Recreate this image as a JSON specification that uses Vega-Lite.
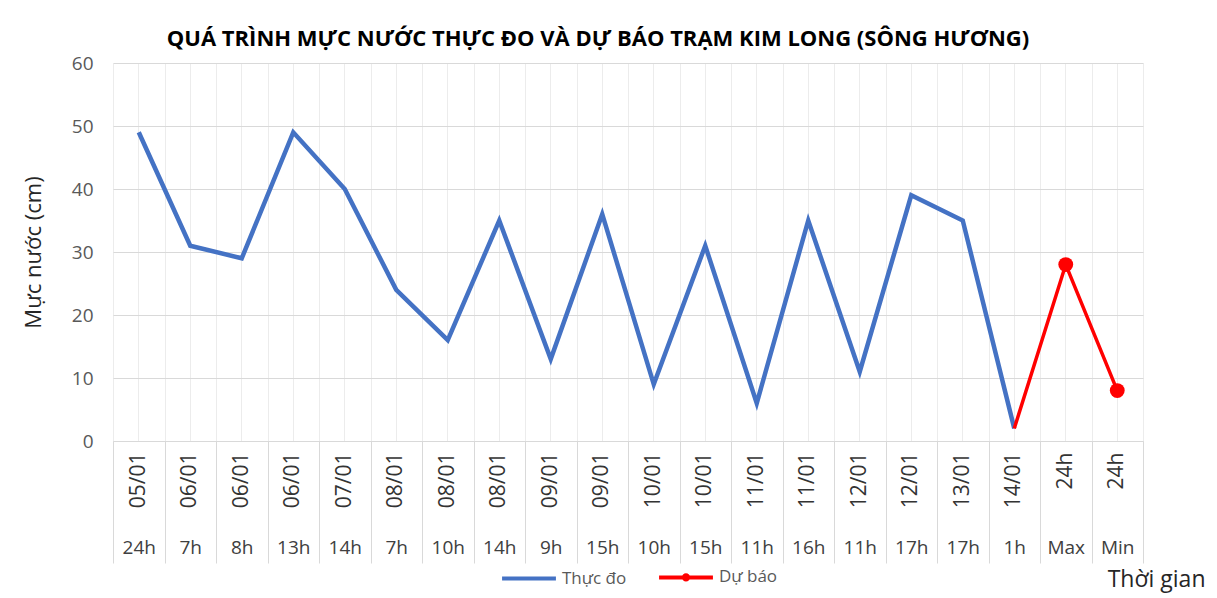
{
  "$schema": "https://vega.github.io/schema/vega-lite/v6.json",
  "width": 1030,
  "height": 378,
  "autosize": {"type": "none"},
  "padding": {"left": 113, "top": 63, "right": 74, "bottom": 157},
  "background": "white",
  "config": {
    "font": "Open Sans",
    "view": {"stroke": null}
  },
  "title": {
    "text": "QUÁ TRÌNH MỰC NƯỚC THỰC ĐO VÀ DỰ BÁO TRẠM KIM LONG (SÔNG HƯƠNG)",
    "fontSize": 22,
    "fontWeight": "bold",
    "color": "#000000",
    "anchor": "middle",
    "dx": -30,
    "offset": 3,
    "font": "Open Sans"
  },
  "data": {
    "values": [
      {"key": "05/01|24h", "series": "Thực đo", "value": 49},
      {"key": "06/01|7h", "series": "Thực đo", "value": 31},
      {"key": "06/01|8h", "series": "Thực đo", "value": 29},
      {"key": "06/01|13h", "series": "Thực đo", "value": 49},
      {"key": "07/01|14h", "series": "Thực đo", "value": 40},
      {"key": "08/01|7h", "series": "Thực đo", "value": 24},
      {"key": "08/01|10h", "series": "Thực đo", "value": 16},
      {"key": "08/01|14h", "series": "Thực đo", "value": 35},
      {"key": "09/01|9h", "series": "Thực đo", "value": 13},
      {"key": "09/01|15h", "series": "Thực đo", "value": 36},
      {"key": "10/01|10h", "series": "Thực đo", "value": 9},
      {"key": "10/01|15h", "series": "Thực đo", "value": 31},
      {"key": "11/01|11h", "series": "Thực đo", "value": 6},
      {"key": "11/01|16h", "series": "Thực đo", "value": 35},
      {"key": "12/01|11h", "series": "Thực đo", "value": 11},
      {"key": "12/01|17h", "series": "Thực đo", "value": 39},
      {"key": "13/01|17h", "series": "Thực đo", "value": 35},
      {"key": "14/01|1h", "series": "Thực đo", "value": 2},
      {"key": "14/01|1h", "series": "Dự báo", "value": 2, "marker": false},
      {"key": "24h|Max", "series": "Dự báo", "value": 28, "marker": true},
      {"key": "24h|Min", "series": "Dự báo", "value": 8, "marker": true}
    ]
  },
  "resolve": {"scale": {"x": "independent"}},
  "layer": [
    {
      "transform": [{"filter": "datum.series === 'Thực đo'"}],
      "mark": {"type": "line", "strokeWidth": 4.5, "strokeJoin": "miter", "strokeCap": "butt"},
      "encoding": {
        "x": {
          "field": "key", "type": "ordinal", "sort": null,
          "scale": {"type": "band", "paddingInner": 0, "paddingOuter": 0,
            "domain": ["05/01|24h","06/01|7h","06/01|8h","06/01|13h","07/01|14h","08/01|7h","08/01|10h","08/01|14h","09/01|9h","09/01|15h","10/01|10h","10/01|15h","11/01|11h","11/01|16h","12/01|11h","12/01|17h","13/01|17h","14/01|1h","24h|Max","24h|Min"]},
          "axis": {
            "orient": "bottom",
            "title": "Thời gian",
            "titleFontSize": 23,
            "titleFontWeight": "normal",
            "titleColor": "#262626",
            "titleFont": "Open Sans",
            "titleAlign": "right",
            "titleAnchor": null,
            "titleX": 1092,
            "titleY": 127,
            "titleBaseline": "top",
            "labelExpr": "split(datum.value, '|')[1]",
            "labelAngle": 0,
            "labelFontSize": 19,
            "labelColor": "#404040",
            "labelPadding": -25,
            "tickBand": "extent",
            "tickSize": 122,
            "tickColor": "#d9d9d9",
            "tickWidth": 1,
            "domainColor": "#d9d9d9",
            "grid": true,
            "gridColor": "#ececec",
            "gridWidth": 1
          }
        },
        "y": {
          "field": "value", "type": "quantitative",
          "scale": {"domain": [0, 60]},
          "axis": {
            "title": "Mực nước (cm)",
            "titleFontSize": 22,
            "titleFontWeight": "normal",
            "titleColor": "#262626",
            "titlePadding": 26,
            "values": [0, 10, 20, 30, 40, 50, 60],
            "labelFontSize": 19,
            "labelColor": "#595959",
            "labelPadding": 20,
            "ticks": false,
            "domain": false,
            "grid": true,
            "gridColor": "#d9d9d9"
          }
        },
        "color": {
          "field": "series", "type": "nominal",
          "scale": {"domain": ["Thực đo", "Dự báo"], "range": ["#4472C4", "#FF0000"]},
          "legend": {
            "title": null,
            "orient": "none",
            "legendX": 387,
            "legendY": 485,
            "direction": "horizontal",
            "symbolType": "stroke",
            "symbolSize": 2900,
            "symbolStrokeWidth": 4,
            "labelFontSize": 17,
            "labelColor": "#595959",
            "labelOffset": 4,
            "columnPadding": 24,
            "encode": {
              "symbols": {
                "update": {
                  "shape": {"signal": "datum.value === 'Dự báo' ? 'M-1,0L1,0M-0.08,0a0.08,0.08 0 1,0 0.16,0a0.08,0.08 0 1,0 -0.16,0' : 'stroke'"}
                }
              }
            }
          }
        }
      }
    },
    {
      "transform": [{"filter": "datum.series === 'Dự báo'"}],
      "mark": {"type": "line", "strokeWidth": 3.5},
      "encoding": {
        "x": {
          "field": "key", "type": "ordinal", "sort": null,
          "scale": {"type": "band", "paddingInner": 0, "paddingOuter": 0,
            "domain": ["05/01|24h","06/01|7h","06/01|8h","06/01|13h","07/01|14h","08/01|7h","08/01|10h","08/01|14h","09/01|9h","09/01|15h","10/01|10h","10/01|15h","11/01|11h","11/01|16h","12/01|11h","12/01|17h","13/01|17h","14/01|1h","24h|Max","24h|Min"]},
          "axis": {
            "orient": "bottom",
            "title": null,
            "labelExpr": "split(datum.value, '|')[0]",
            "labelAngle": -90,
            "labelFontSize": 21,
            "labelColor": "#333333",
            "labelPadding": 11,
            "ticks": false,
            "domain": false,
            "grid": true,
            "gridColor": "#ececec",
            "gridWidth": 1
          }
        },
        "y": {"field": "value", "type": "quantitative"},
        "color": {"field": "series", "type": "nominal"}
      }
    },
    {
      "transform": [{"filter": "datum.marker === true"}],
      "mark": {"type": "point", "filled": true, "size": 220, "opacity": 1, "color": "#FF0000"},
      "encoding": {
        "x": {
          "field": "key", "type": "ordinal", "sort": null,
          "scale": {"type": "band", "paddingInner": 0, "paddingOuter": 0,
            "domain": ["05/01|24h","06/01|7h","06/01|8h","06/01|13h","07/01|14h","08/01|7h","08/01|10h","08/01|14h","09/01|9h","09/01|15h","10/01|10h","10/01|15h","11/01|11h","11/01|16h","12/01|11h","12/01|17h","13/01|17h","14/01|1h","24h|Max","24h|Min"]},
          "axis": null
        },
        "y": {"field": "value", "type": "quantitative"}
      }
    }
  ]
}
